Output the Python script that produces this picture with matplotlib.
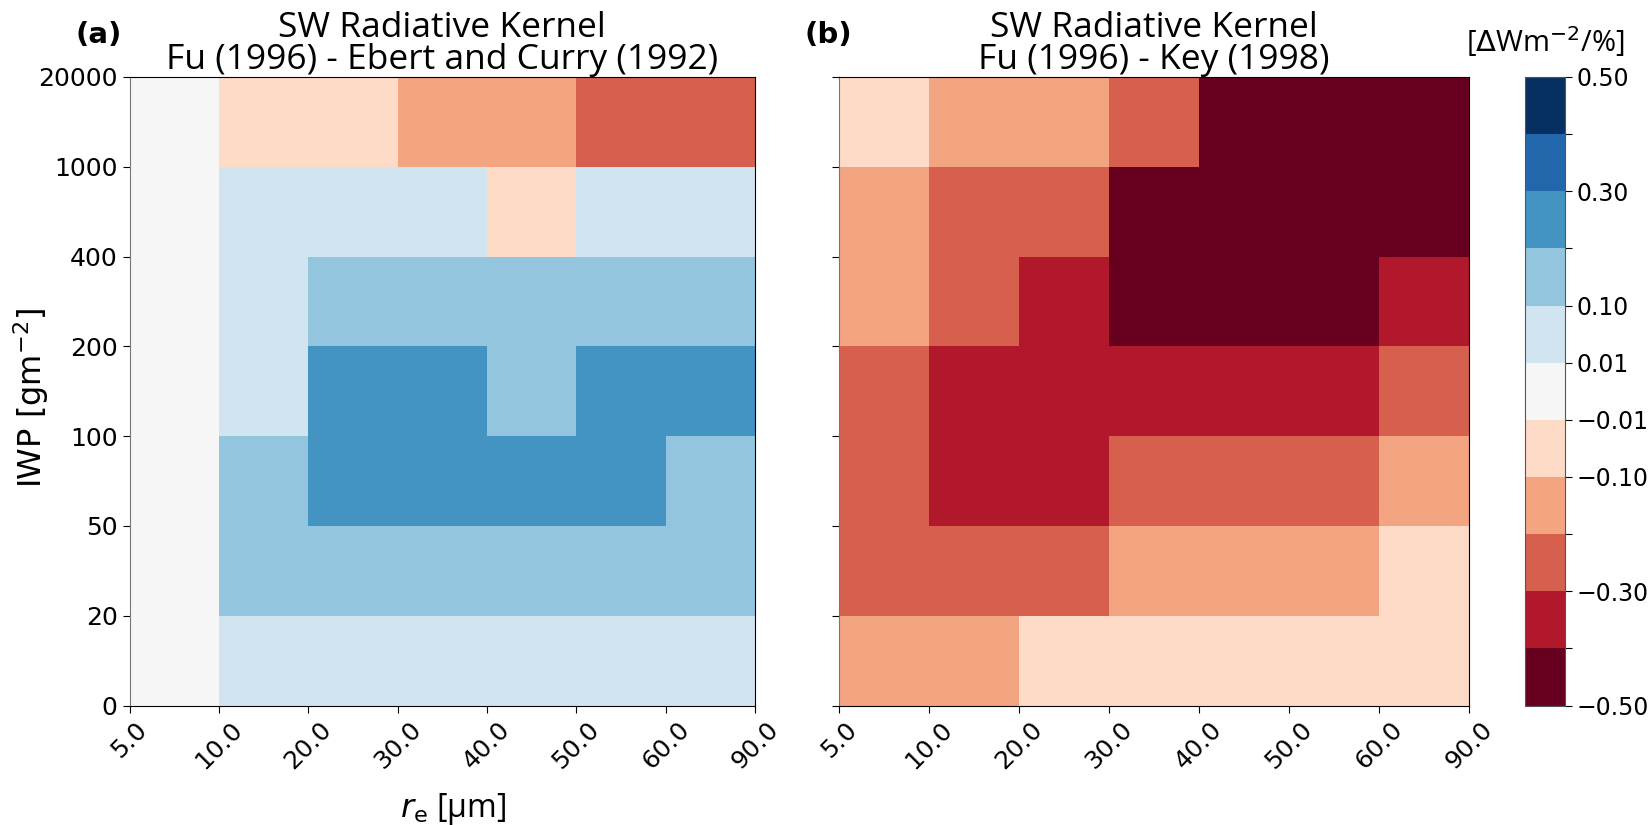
import numpy as np
import matplotlib
matplotlib.use("Agg")
import matplotlib.pyplot as plt
from matplotlib.colors import BoundaryNorm

# ---- data ----
re_labels = ["5.0", "10.0", "20.0", "30.0", "40.0", "50.0", "60.0", "90.0"]
iwp_labels = ["0", "20", "50", "100", "200", "400", "1000", "20000"]
levels = [-0.5, -0.4, -0.3, -0.2, -0.1, -0.01, 0.01, 0.1, 0.2, 0.3, 0.4, 0.5]
cbar_tick_values = [-0.5, -0.3, -0.1, -0.01, 0.01, 0.1, 0.3, 0.5]

# rows from IWP 0-20 (bottom) to 1000-20000 (top); columns re 5-10 ... 60-90
diff_ebert_curry = [
    [0.00, 0.05, 0.05, 0.05, 0.05, 0.05, 0.05],
    [0.00, 0.15, 0.15, 0.15, 0.15, 0.15, 0.15],
    [0.00, 0.15, 0.25, 0.25, 0.25, 0.25, 0.15],
    [0.00, 0.05, 0.25, 0.25, 0.15, 0.25, 0.25],
    [0.00, 0.05, 0.15, 0.15, 0.15, 0.15, 0.15],
    [0.00, 0.05, 0.05, 0.05, -0.05, 0.05, 0.05],
    [0.00, -0.05, -0.05, -0.15, -0.15, -0.25, -0.25],
]
diff_key = [
    [-0.15, -0.15, -0.05, -0.05, -0.05, -0.05, -0.05],
    [-0.25, -0.25, -0.25, -0.15, -0.15, -0.15, -0.05],
    [-0.25, -0.35, -0.35, -0.25, -0.25, -0.25, -0.15],
    [-0.25, -0.35, -0.35, -0.35, -0.35, -0.35, -0.25],
    [-0.15, -0.25, -0.35, -0.45, -0.45, -0.45, -0.35],
    [-0.15, -0.25, -0.25, -0.45, -0.45, -0.45, -0.45],
    [-0.05, -0.15, -0.15, -0.25, -0.45, -0.45, -0.45],
]

W, H = 1651, 825
fig = plt.figure(figsize=(W / 100, H / 100), dpi=100)

cmap = plt.get_cmap("RdBu")
norm = BoundaryNorm(levels, cmap.N)

ax_a = fig.add_axes([129.5 / W, 1 - 705.5 / H, (755 - 129.5) / W, (705.5 - 77) / H])
ax_b = fig.add_axes([839 / W, 1 - 705.5 / H, (1469 - 839) / W, (705.5 - 77) / H])
cax = fig.add_axes([1525 / W, 1 - 705.5 / H, (1565 - 1525) / W, (705.5 - 77) / H])

title_font = "Open Sans"
tick_fs = 18

xe = np.arange(len(re_labels))
ye = np.arange(len(iwp_labels))

panels = [
    (ax_a, diff_ebert_curry, "SW Radiative Kernel\nFu (1996) - Ebert and Curry (1992)"),
    (ax_b, diff_key, "SW Radiative Kernel\nFu (1996) - Key (1998)"),
]
mesh = None
for ax, data, title in panels:
    mesh = ax.pcolormesh(xe, ye, np.array(data), cmap=cmap, norm=norm)
    ax.set_xlim(xe[0], xe[-1])
    ax.set_ylim(ye[0], ye[-1])
    ax.set_xticks(xe)
    ax.set_xticklabels(re_labels, rotation=45, fontsize=tick_fs)
    ax.set_yticks(ye)
    ax.set_title(title, fontsize=25.5, family=title_font, pad=3, linespacing=0.92)
    ax.spines["left"].set_color("#777777")
    ax.tick_params(axis="both", length=5)

fig.text(98.5 / W, 1 - 35 / H, "(a)", fontsize=21, fontweight="bold",
         ha="center", va="center")
fig.text(828.5 / W, 1 - 35 / H, "(b)", fontsize=21, fontweight="bold",
         ha="center", va="center")

ax_a.set_yticklabels(iwp_labels, fontsize=tick_fs)
ax_b.set_yticklabels([])
ax_a.set_ylabel(r"IWP [gm$^{-2}$]", fontsize=23)
ax_a.yaxis.set_label_coords(-0.125, 0.49)
ax_a.set_xlabel(r"$r_\mathrm{e}$ [µm]", fontsize=23, family=title_font)
ax_a.xaxis.set_label_coords(0.517, -0.136)

cb = fig.colorbar(mesh, cax=cax, boundaries=levels, spacing="uniform")
cb.set_ticks(levels)
cb.set_ticklabels([("%.2f" % v).replace("-", "\u2212") if v in cbar_tick_values else ""
                   for v in levels])
cb.ax.tick_params(labelsize=17, length=5, pad=3)
cb.outline.set_edgecolor("#555555")
fig.text(1545 / W, 1 - 42 / H, r"[$\Delta$Wm$^{-2}$/%]", fontsize=21,
         family=title_font, ha="center", va="center")

fig.savefig("out.png", dpi=100)
